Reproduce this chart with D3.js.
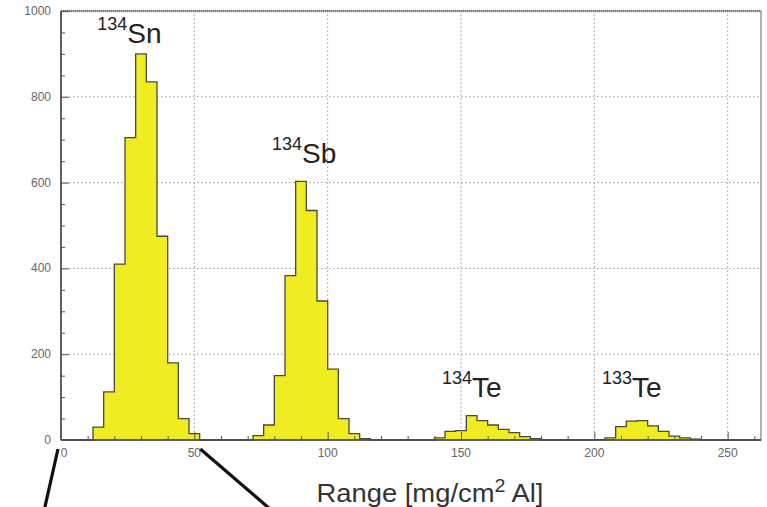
<!DOCTYPE html>
<html lang="en">
<head>
<meta charset="UTF-8">
<title>Range histogram</title>
<script src="https://d3js.org/d3.v7.min.js"></script>
<style>
  body { margin: 0; background: #fff; }
  svg { display: block; font-family: "Liberation Sans", Arial, sans-serif; }
  .tick-label { fill: #666; font-size: 12px; }
  .grid { stroke: #999; stroke-width: 1; stroke-dasharray: 1.5,2.5; }
</style>
</head>
<body>
<div id="chart"></div>
<script>
// histogram bins: 4 mg/cm2 wide, counts per peak starting at the given lower edge
const binWidth = 4;
const snStart = 12;
const snCounts = [30, 112, 410, 705, 900, 835, 475, 180, 50, 15];
const sbStart = 72;
const sbCounts = [10, 35, 150, 383, 603, 535, 324, 165, 50, 15, 3];
const te134Start = 140;
const te134Counts = [5, 20, 22, 57, 45, 35, 25, 17, 8, 3];
const te133Start = 200;
const te133Counts = [1, 5, 31, 44, 45, 33, 20, 9, 5, 2];

const xTicks = [0, 50, 100, 150, 200, 250];
const yTicks = [0, 200, 400, 600, 800, 1000];

// peak labels: mass number, element, position (data units, baseline)
const peakLabels = [
  { mass: "134", el: "Sn", x: 13.6, y: 925 },
  { mass: "134", el: "Sb", x: 79.1, y: 646 },
  { mass: "134", el: "Te", x: 142.9, y: 100 },
  { mass: "133", el: "Te", x: 202.9, y: 100 }
];

const W = 767, H = 507;
const margin = { top: 11, right: 6, bottom: 67, left: 61 };

const svg = d3.select("#chart").append("svg")
  .attr("width", W)
  .attr("height", H);

const x = d3.scaleLinear().domain([0, 262.5]).range([margin.left, W - margin.right]);
const y = d3.scaleLinear().domain([0, 1000]).range([H - margin.bottom, margin.top]);

// grid
svg.append("g").selectAll("line")
  .data(yTicks.filter(d => d > 0 && d < 1000))
  .join("line")
  .attr("class", "grid")
  .attr("x1", x(0)).attr("x2", x(262.5))
  .attr("y1", d => y(d)).attr("y2", d => y(d));

svg.append("g").selectAll("line")
  .data(xTicks.filter(d => d > 0))
  .join("line")
  .attr("class", "grid")
  .attr("x1", d => x(d)).attr("x2", d => x(d))
  .attr("y1", y(0)).attr("y2", y(1000));

// build the histogram as one step outline
const points = [{ x: 0, y: 0 }];
[[snStart, snCounts], [sbStart, sbCounts], [te134Start, te134Counts], [te133Start, te133Counts]]
  .forEach(([start, counts]) => {
    points.push({ x: start, y: 0 });
    counts.forEach((c, i) => points.push({ x: start + i * binWidth, y: c }));
    points.push({ x: start + counts.length * binWidth, y: 0 });
  });
points.push({ x: 262.5, y: 0 });

const area = d3.area()
  .x(d => x(d.x))
  .y0(y(0))
  .y1(d => y(d.y))
  .curve(d3.curveStepAfter);

const line = d3.line()
  .x(d => x(d.x))
  .y(d => y(d.y))
  .curve(d3.curveStepAfter);

svg.append("path")
  .datum(points)
  .attr("fill", "#f0ec22")
  .attr("d", area);

svg.append("path")
  .datum(points)
  .attr("fill", "none")
  .attr("stroke", "#4a4a3a")
  .attr("stroke-width", 1.3)
  .attr("d", line);

// frame
svg.append("rect")
  .attr("x", x(0)).attr("y", y(1000))
  .attr("width", x(262.5) - x(0))
  .attr("height", y(0) - y(1000))
  .attr("fill", "none")
  .attr("stroke", "#666")
  .attr("stroke-width", 1);

svg.append("line")
  .attr("x1", x(0)).attr("x2", x(262.5))
  .attr("y1", y(1000)).attr("y2", y(1000))
  .attr("stroke", "#777").attr("stroke-width", 2.5)
  .attr("stroke-dasharray", "1,1");

svg.append("line")
  .attr("x1", x(0)).attr("x2", x(0))
  .attr("y1", y(0)).attr("y2", y(1000))
  .attr("stroke", "#444").attr("stroke-width", 1.5);
svg.append("line")
  .attr("x1", x(0)).attr("x2", x(262.5))
  .attr("y1", y(0)).attr("y2", y(0))
  .attr("stroke", "#444").attr("stroke-width", 1.5);

// axes (ticks inside)
const yAxis = d3.axisRight(y).tickValues(d3.range(0, 1001, 50)).tickSize(4).tickFormat("");
svg.append("g")
  .attr("transform", `translate(${x(0)},0)`)
  .call(yAxis)
  .call(g => g.select(".domain").remove())
  .call(g => g.selectAll(".tick line").attr("stroke", "#555")
    .attr("x2", d => d % 200 === 0 ? 8 : 4));

const xAxis = d3.axisTop(x).tickValues(d3.range(0, 261, 10)).tickSize(4).tickFormat("");
svg.append("g")
  .attr("transform", `translate(0,${y(0)})`)
  .call(xAxis)
  .call(g => g.select(".domain").remove())
  .call(g => g.selectAll(".tick line").attr("stroke", "#555")
    .attr("y2", d => d % 50 === 0 ? -8 : -4));

// tick labels
svg.append("g").selectAll("text")
  .data(yTicks)
  .join("text")
  .attr("class", "tick-label")
  .attr("text-anchor", "end")
  .attr("x", x(0) - 10)
  .attr("y", d => y(d) + 4)
  .text(d => d);

svg.append("g").selectAll("text")
  .data(xTicks)
  .join("text")
  .attr("class", "tick-label")
  .attr("text-anchor", "middle")
  .attr("x", d => x(d) + (d === 0 ? 3 : 0))
  .attr("y", y(0) + 17)
  .text(d => d);

// axis title
const title = svg.append("text")
  .attr("x", 430)
  .attr("y", 502)
  .attr("text-anchor", "middle")
  .attr("fill", "#333")
  .attr("font-size", 25)
  .attr("textLength", 227)
  .attr("lengthAdjust", "spacingAndGlyphs");
title.append("tspan").text("Range [mg/cm");
title.append("tspan").attr("font-size", 18).attr("dy", -10).text("2");
title.append("tspan").attr("dy", 10).text(" Al]");

// peak labels
const lbl = svg.append("g").selectAll("text")
  .data(peakLabels)
  .join("text")
  .attr("x", d => x(d.x))
  .attr("y", d => y(d.y))
  .attr("fill", "#222");
lbl.append("tspan").attr("font-size", 18).attr("dy", -13).text(d => d.mass);
lbl.append("tspan").attr("font-size", 28).attr("dy", 13).text(d => d.el);

// zoom-guide lines leaving the plot at x = 0 and x = 50
const guides = [{ at: 0, dx0: -3, dx1: -17 }, { at: 50, dx0: 6, dx1: 78 }];
svg.append("g").selectAll("line")
  .data(guides)
  .join("line")
  .attr("x1", d => x(d.at) + d.dx0)
  .attr("y1", y(0) + 9)
  .attr("x2", d => x(d.at) + d.dx1)
  .attr("y2", H + 4)
  .attr("stroke", "#111")
  .attr("stroke-width", 3.2);
</script>
</body>
</html>
